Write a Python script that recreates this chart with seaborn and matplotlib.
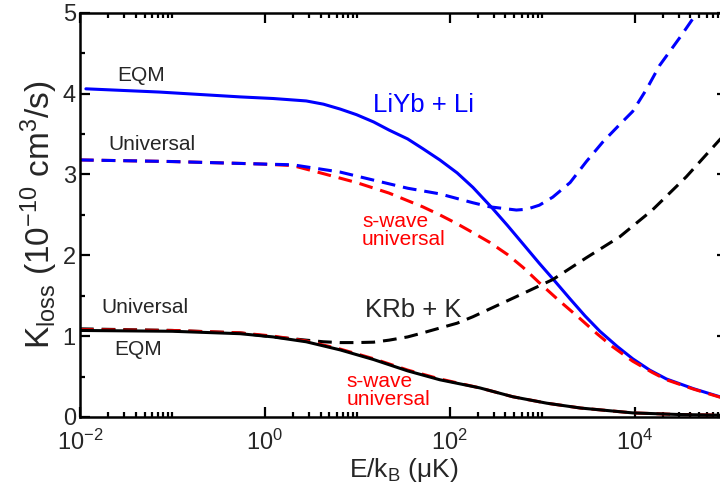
import numpy as np
import seaborn as sns
import matplotlib
matplotlib.use("Agg")
import matplotlib.pyplot as plt
from matplotlib.ticker import FixedLocator, FixedFormatter

# --- data (E in uK, K_loss in 1e-10 cm^3/s) ---
liyb_eqm_E = [0.0116, 0.072, 0.54, 1.23, 2.8, 4.3, 6.5, 9.8, 15, 22, 35, 51, 78, 120, 178,
              290, 420, 620, 930, 1300, 2000, 2900, 4200, 6500, 9500, 14500, 22000, 43000,
              83000, 100000]
liyb_eqm_K = [4.06, 4.02, 3.96, 3.94, 3.91, 3.87, 3.81, 3.74, 3.65, 3.55, 3.44, 3.32, 3.18,
              3.02, 2.84, 2.58, 2.37, 2.14, 1.90, 1.71, 1.46, 1.25, 1.06, 0.87, 0.72, 0.58,
              0.47, 0.35, 0.25, 0.23]

liyb_univ_E = [0.01, 0.1, 0.89, 2.0, 6.5, 15, 35, 78, 178, 270, 525, 680, 930, 1300, 2000,
               3000, 4500, 6900, 9500, 13500, 18600, 31000, 47000, 63000]
liyb_univ_K = [3.18, 3.16, 3.13, 3.12, 3.03, 2.93, 2.83, 2.76, 2.65, 2.60, 2.56, 2.57, 2.62,
               2.72, 2.90, 3.16, 3.40, 3.62, 3.78, 4.06, 4.35, 4.70, 5.00, 5.20]

liyb_swave_E = [0.01, 0.1, 0.89, 2.0, 4.3, 9.8, 22, 51, 78, 120, 178, 270, 420, 620, 930,
                1450, 2600, 3900, 5750, 9500, 15500, 22000, 43000, 83000, 100000]
liyb_swave_K = [3.18, 3.16, 3.13, 3.11, 3.01, 2.90, 2.77, 2.60, 2.50, 2.39, 2.28, 2.16, 2.01,
                1.85, 1.66, 1.46, 1.21, 1.03, 0.87, 0.69, 0.55, 0.46, 0.345, 0.245, 0.225]

krb_univ_E = [0.01, 0.1, 0.54, 1.23, 1.9, 2.8, 4.3, 6.5, 9.8, 15, 22, 35, 51, 78, 120, 178,
              575, 1300, 3000, 6900, 15500, 36000, 83000, 100000]
krb_univ_K = [1.09, 1.07, 1.04, 0.99, 0.97, 0.95, 0.93, 0.92, 0.92, 0.925, 0.95, 0.99, 1.04,
              1.10, 1.16, 1.24, 1.51, 1.70, 1.97, 2.23, 2.56, 2.97, 3.43, 3.52]

krb_eqm_E = [0.01, 0.1, 0.54, 1.23, 2.8, 6.5, 15, 35, 78, 210, 480, 1120, 2600, 9500,
             30000, 100000]
krb_eqm_K = [1.07, 1.06, 1.03, 0.99, 0.93, 0.83, 0.71, 0.57, 0.46, 0.36, 0.25, 0.17, 0.11,
             0.05, 0.03, 0.02]

krb_swave_E = krb_eqm_E
krb_swave_K = [1.08, 1.07, 1.04, 1.00, 0.94, 0.84, 0.72, 0.58, 0.47, 0.36, 0.25, 0.17, 0.11,
               0.05, 0.03, 0.02]

x_major = [1e-2, 1e0, 1e2, 1e4]
x_major_labels = [r"$\mathregular{10^{-2}}$", r"$\mathregular{10^{0}}$",
                  r"$\mathregular{10^{2}}$", r"$\mathregular{10^{4}}$"]

sns.set_theme(style="ticks")
plt.rcParams["font.family"] = ["Liberation Sans", "DejaVu Sans"]
plt.rcParams["mathtext.fontset"] = "custom"
plt.rcParams["mathtext.rm"] = "Liberation Sans"
plt.rcParams["mathtext.it"] = "Liberation Sans:italic"
plt.rcParams["mathtext.default"] = "regular"

fig = plt.figure(figsize=(7.2, 4.94), dpi=100)
ax = fig.add_axes([0.111, 0.156, 0.899, 0.818])

dash = (0, (4.5, 2.6))
lw = 2.2
sns.lineplot(x=liyb_eqm_E, y=liyb_eqm_K, ax=ax, color="#0000ff", lw=lw, sort=False)
sns.lineplot(x=liyb_swave_E, y=liyb_swave_K, ax=ax, color="#ff0000", lw=lw, ls=dash, sort=False)
sns.lineplot(x=liyb_univ_E, y=liyb_univ_K, ax=ax, color="#0000ff", lw=lw, ls=dash, sort=False)
sns.lineplot(x=krb_univ_E, y=krb_univ_K, ax=ax, color="black", lw=lw, ls=dash, sort=False)
sns.lineplot(x=krb_swave_E, y=krb_swave_K, ax=ax, color="#ff0000", lw=lw, ls=dash, sort=False)
sns.lineplot(x=krb_eqm_E, y=krb_eqm_K, ax=ax, color="black", lw=lw, sort=False)

ax.set_xscale("log")
ax.set_xlim(1e-2, 1e5)
ax.set_ylim(0, 5)

ax.xaxis.set_major_locator(FixedLocator(x_major))
ax.xaxis.set_major_formatter(FixedFormatter(x_major_labels))
minor = [k * 10.0 ** e for e in (-2, 0, 2, 4) for k in range(2, 11)]
ax.xaxis.set_minor_locator(FixedLocator(minor))
ax.xaxis.set_minor_formatter(FixedFormatter([""] * len(minor)))
ax.set_yticks(range(0, 6))
ax.set_yticks(np.arange(0.5, 5, 1.0), minor=True)

ax.tick_params(which="both", direction="in", top=True, right=True, width=1.6, color="black")
ax.tick_params(which="major", length=7.5)
ax.tick_params(which="minor", length=3.6)
ax.tick_params(axis="x", which="major", labelsize=17, pad=9)
ax.tick_params(axis="y", which="major", labelsize=17, pad=3)
for s in ax.spines.values():
    s.set_linewidth(1.8)
    s.set_color("black")

ax.set_xlabel(r"E/k$_\mathregular{B}$ ($\mathregular{\mu}$K)", fontsize=19, labelpad=1)
ax.set_ylabel(r"K$_\mathregular{loss}$ (10$^\mathregular{-10}$ cm$^\mathregular{3}$/s)",
              fontsize=24, labelpad=2)

ax.text(10 ** -1.34, 4.23, "EQM", fontsize=15, ha="center", va="center")
ax.text(10 ** -1.22, 3.37, "Universal", fontsize=15, ha="center", va="center")
ax.text(10 ** 1.72, 3.86, "LiYb + Li", fontsize=18.5, color="#0000ff", ha="center", va="center")
ax.text(10 ** 1.05, 2.31, "s-wave\nuniversal", fontsize=15, color="#ff0000",
        ha="left", va="center", linespacing=0.95)
ax.text(10 ** 1.60, 1.32, "KRb + K", fontsize=18.5, ha="center", va="center")
ax.text(10 ** -1.30, 1.35, "Universal", fontsize=15, ha="center", va="center")
ax.text(10 ** -1.37, 0.84, "EQM", fontsize=15, ha="center", va="center")
ax.text(10 ** 0.886, 0.33, "s-wave\nuniversal", fontsize=15, color="#ff0000",
        ha="left", va="center", linespacing=0.95)

fig.savefig("out.png", dpi=100)
